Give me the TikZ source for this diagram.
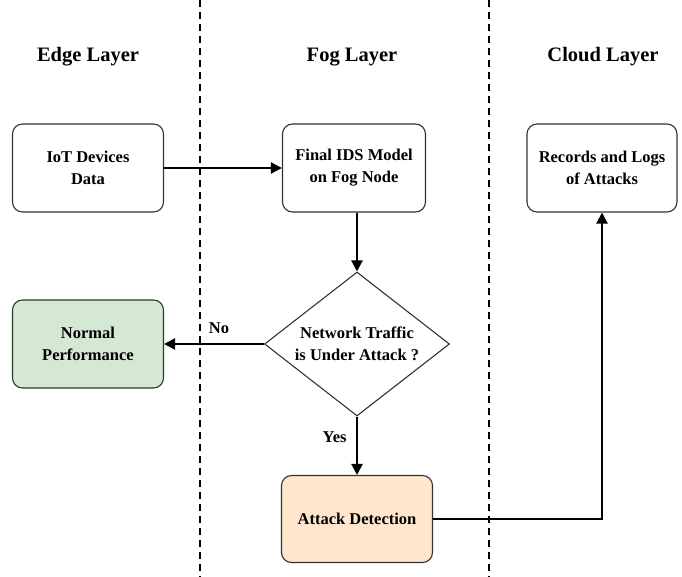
\documentclass[tikz,border=0pt]{standalone}
\usepackage{fontspec}
\setmainfont{Liberation Serif}
\usetikzlibrary{shapes.geometric,arrows.meta}
\begin{document}
\begin{tikzpicture}[x=1pt,y=-1pt,
  txt/.style={font=\bfseries\fontsize{16.5}{22}\selectfont},
  box/.style={txt,draw=black!80,line width=1.1pt,rounded corners=10pt,align=center},
  hdr/.style={font=\bfseries\fontsize{20.5}{24}\selectfont},
  conn/.style={line width=2.2pt,-{Triangle[length=11pt,width=11pt]}},
  sep/.style={line width=1.6pt,dash pattern=on 7pt off 5pt}]
\useasboundingbox (0,0) rectangle (682,577);
\draw[sep] (200,0) -- (200,577);
\draw[sep] (489,0) -- (489,577);
\node[hdr] (h1) at (88,57) {Edge Layer};
\node[hdr] (h2) at (352,57) {Fog Layer};
\node[hdr] (h3) at (603,57) {Cloud Layer};
\node[box,minimum width=151pt,minimum height=88pt] (iot) at (88,168) {IoT Devices\\Data};
\node[box,minimum width=143pt,minimum height=88pt] (ids) at (354,168) {Final IDS Model\\on Fog Node};
\node[box,minimum width=150pt,minimum height=88pt] (rec) at (602,168) {Records and Logs\\of Attacks};
\node[box,minimum width=151pt,minimum height=88pt,fill={rgb,255:red,213;green,232;blue,212}] (norm) at (88,344) {Normal\\Performance};
\node[box,minimum width=151pt,minimum height=87pt,fill={rgb,255:red,255;green,230;blue,204}] (att) at (357,519) {Attack Detection};
\node[txt,draw=black!80,line width=1.1pt,diamond,aspect=1.3,minimum width=185pt,minimum height=144pt,inner sep=0pt,align=center] (dia) at (357,344) {Network Traffic\\is Under Attack ?};
\draw[conn] (iot) -- (ids);
\draw[conn] (ids.south -| dia.north) -- (dia.north);
\draw[conn] (dia.west) -- (norm.east) node[txt,pos=0.45,above=6pt] (no) {No};
\draw[conn] (dia.south) -- (att.north) node[txt,pos=0.35,left=6pt] (yes) {Yes};
\coordinate (corner) at (att.east -| rec.south);
\draw[conn] (att.east) -- (corner) -- (rec.south);
\end{tikzpicture}
\end{document}
